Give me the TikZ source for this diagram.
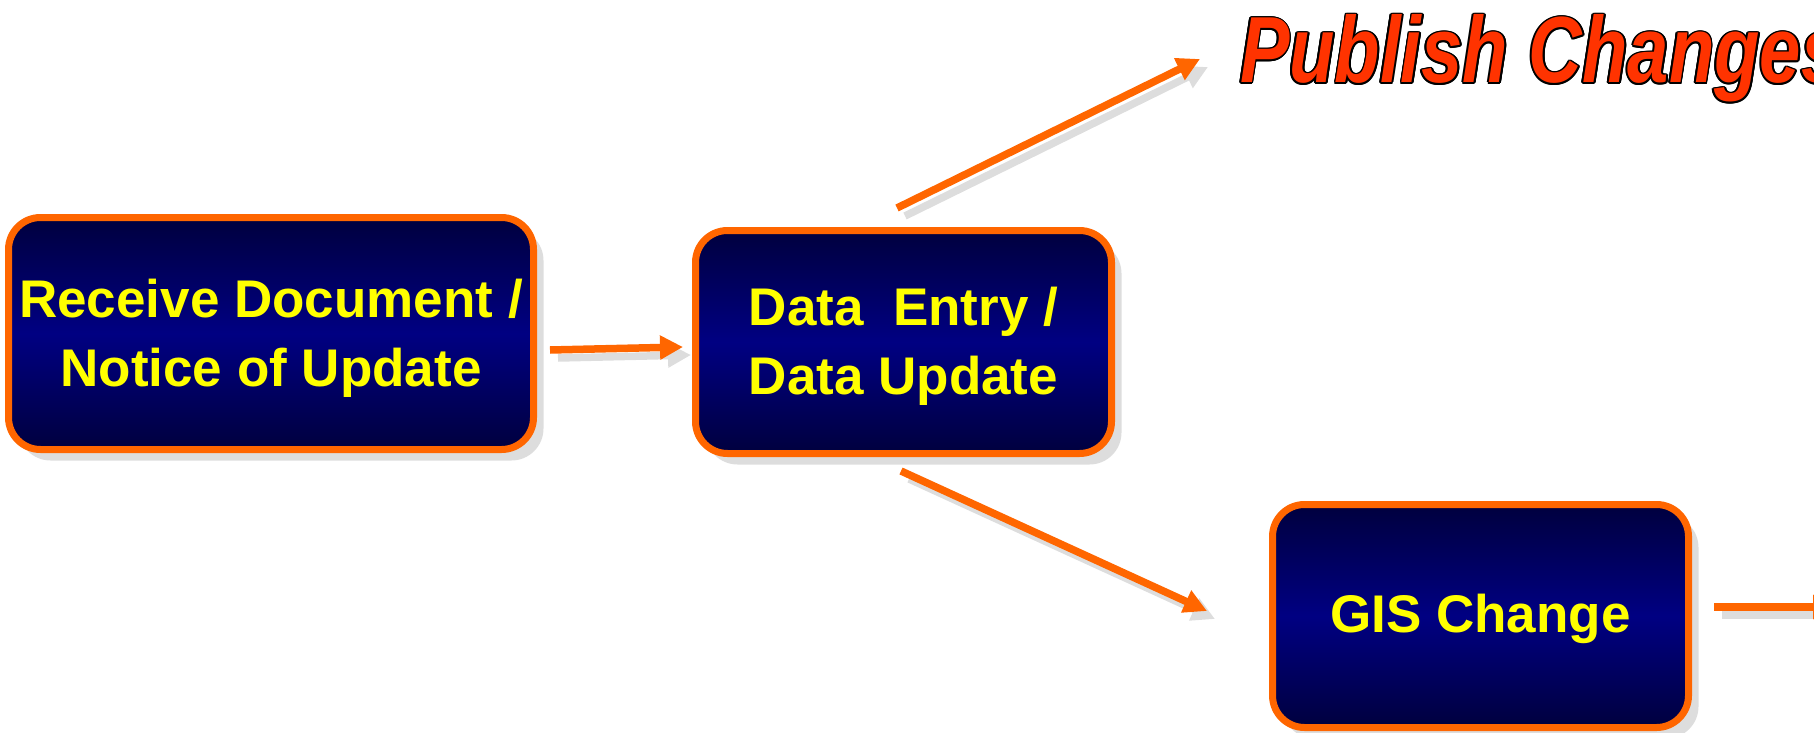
\documentclass[tikz,border=0pt]{standalone}
\usepackage{fontspec}
\setmainfont{Liberation Sans}
\usetikzlibrary{arrows.meta,shadows,calc}

\definecolor{flowOrange}{HTML}{FF6600}
\definecolor{boxDark}{RGB}{0,0,62}
\definecolor{boxMid}{RGB}{0,0,130}
\definecolor{shadowGray}{HTML}{DDDDDD}
\definecolor{pubRed}{HTML}{FF3300}
\definecolor{labelYellow}{HTML}{FFFF00}

\tikzset{
  stepbox/.style={
    rectangle, rounded corners=32pt, draw=flowOrange, line width=7pt,
    top color=boxDark, bottom color=boxDark, middle color=boxMid,
    inner sep=0pt, outer sep=0pt,
    drop shadow={shadow xshift=10pt, shadow yshift=-11pt, fill=shadowGray, opacity=1}
  },
  bigbox/.style={stepbox, minimum width=525pt, minimum height=232pt},
  midbox/.style={stepbox, minimum width=416pt, minimum height=223pt},
  boxtext/.style={inner sep=0pt, align=center, text=labelYellow,
    font=\fontsize{53}{69}\selectfont\bfseries},
  flowarrow/.style={draw=flowOrange, line width=7.5pt,
    -{Triangle[length=23pt,width=23pt]}},
  arrowshadow/.style={draw=shadowGray, line width=7.5pt,
    -{Triangle[length=23pt,width=23pt]},
    transform canvas={shift={(8pt,-8pt)}}},
  pubtext/.style={anchor=base west, inner sep=0pt, outer sep=0pt,
    font=\fontsize{94}{100}\selectfont\bfseries\itshape}
}

\newcommand\pubwords{\scalebox{0.79}[1]{Publish\ Changes}}

\begin{document}
\begin{tikzpicture}[x=1pt, y=-1pt]
  \useasboundingbox (0,0) rectangle (1814,733);
  \clip (0,0) rectangle (1814,733);

  % process boxes
  \node[bigbox] (receive) at (271,333.5) {};
  \node[midbox] (entry) at (903.5,342) {};
  \node[midbox] (gis) at (1480.5,616) {};

  % box captions
  \node[boxtext] (receive-t) at ([yshift=-5pt]receive.center) {Receive Document /\\Notice of Update};
  \node[boxtext] (entry-t) at ([yshift=-4pt]entry.center) {Data\ \ Entry /\\Data Update};
  \node[boxtext] (gis-t) at ([yshift=-3pt]gis.center) {GIS Change};

  % outlined heading: black copies around the red text
  \foreach \a in {0,30,...,330}
    \node[pubtext, text=black] (pubo-\a) at ($(1240,83)+(\a:1.9)$) {\pubwords};
  \node[pubtext, text=pubRed] (pub) at (1240,83) {\pubwords};

  % connector end points
  \coordinate (r1) at ([xshift=16.5pt,yshift=-16.5pt]receive.east);
  \coordinate (e1) at ([xshift=-12.5pt,yshift=-5pt]entry.west);
  \coordinate (r2) at ([xshift=-6.5pt,yshift=22.5pt]entry.north);
  \coordinate (e2) at ([xshift=-40pt,yshift=24pt]pub.base west);
  \coordinate (r3) at ([xshift=-2.5pt,yshift=-17.5pt]entry.south);
  \coordinate (e3) at ([xshift=-65.5pt,yshift=5pt]gis.west);
  \coordinate (r4) at ([xshift=25.5pt,yshift=9pt]gis.east);
  \coordinate (e4) at ([xshift=147.5pt,yshift=9pt]gis.east);

  % connector shadows
  \draw[arrowshadow] (r1) -- (e1);
  \draw[arrowshadow] (r2) -- (e2);
  \draw[arrowshadow] (r3) -- (e3);
  \draw[arrowshadow] (r4) -- (e4);

  % connectors
  \draw[flowarrow] (r1) -- (e1);
  \draw[flowarrow] (r2) -- (e2);
  \draw[flowarrow] (r3) -- (e3);
  \draw[flowarrow] (r4) -- (e4);
\end{tikzpicture}
\end{document}
